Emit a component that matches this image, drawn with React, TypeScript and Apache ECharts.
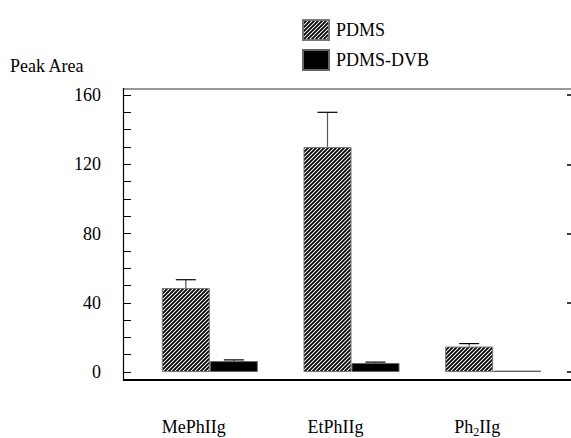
import React, { useEffect, useRef } from "react";
import * as echarts from "echarts";

const categories = ["MePhIIg", "EtPhIIg", "Ph2IIg"];
const pdms = [48.5, 130, 14.7];
const pdmsErrTop = [53.3, 150, 16.4];
const dvb = [6.3, 5.2, 0.8];
const dvbErrTop = [7.0, 5.7, null];
const yTicks = [0, 40, 80, 120, 160];

const BAR_W = 48;
const FONT = "Liberation Serif";

function makeHatch(): HTMLCanvasElement {
  const s = 4;
  const c = document.createElement("canvas");
  c.width = s;
  c.height = s;
  const g = c.getContext("2d")!;
  g.fillStyle = "#fff";
  g.fillRect(0, 0, s, s);
  g.strokeStyle = "#000";
  g.lineWidth = 1.8;
  g.beginPath();
  g.moveTo(-1, s + 1);
  g.lineTo(s + 1, -1);
  g.moveTo(-1, 1);
  g.lineTo(1, -1);
  g.moveTo(s - 1, s + 1);
  g.lineTo(s + 1, s - 1);
  g.stroke();
  return c;
}

function errSeries(name: string, vals: number[], tops: (number | null)[], dx: number) {
  const data: any[] = [];
  vals.forEach((v, i) => {
    if (tops[i] != null) data.push([i, v, tops[i]]);
  });
  return {
    type: "custom",
    name,
    data,
    z: 5,
    renderItem: (params: any, api: any) => {
      const b = api.coord([api.value(0), api.value(1)]);
      const t = api.coord([api.value(0), api.value(2)]);
      const x = b[0] + dx;
      return {
        type: "group",
        children: [
          { type: "line", shape: { x1: x, y1: b[1], x2: x, y2: t[1] }, style: { stroke: "#555", lineWidth: 1.2 } },
          { type: "line", shape: { x1: x - 10, y1: t[1], x2: x + 10, y2: t[1] }, style: { stroke: "#000", lineWidth: 1.2 } },
        ],
      };
    },
  };
}

export default function App() {
  const ref = useRef<HTMLDivElement>(null);
  useEffect(() => {
    const chart = echarts.init(ref.current!, null, { renderer: "svg" });
    const hatch = { image: makeHatch(), repeat: "repeat" } as any;
    chart.setOption({
      animation: false,
      backgroundColor: "#fff",
      textStyle: { fontFamily: FONT },
      grid: { left: 139, right: 7, top: 95, bottom: 64 },
      legend: {
        orient: "vertical",
        left: 297,
        top: 14,
        itemWidth: 26,
        itemHeight: 20,
        itemGap: 8,
        icon: "rect",
        data: ["PDMS", "PDMS-DVB"],
        textStyle: { fontFamily: FONT, fontSize: 18, color: "#000", padding: [0, 0, 0, 2] },
      },
      xAxis: {
        type: "category",
        data: categories,
        axisLine: { show: false },
        axisTick: { show: false },
        splitLine: { show: false },
        axisLabel: {
          margin: 44,
          padding: [0, 32, 0, 0],
          formatter: (v: string) => (v === "Ph2IIg" ? "{a|Ph}{s|2}{a|IIg}" : "{a|" + v + "}"),
          rich: {
            a: { fontFamily: FONT, fontSize: 18, color: "#000", lineHeight: 22 },
            s: { fontFamily: FONT, fontSize: 12, color: "#000", lineHeight: 12, verticalAlign: "bottom" },
          },
        },
      },
      yAxis: [
        {
          type: "value",
          min: yTicks[0],
          max: yTicks[yTicks.length - 1],
          interval: 40,
          offset: 15,
          axisLine: { show: false },
          axisTick: { show: true, inside: true, length: 7, lineStyle: { color: "#000", width: 1 } },
          minorTick: { show: true, splitNumber: 4, length: 7, lineStyle: { color: "#000", width: 1 } },
          splitLine: { show: false },
          axisLabel: { fontFamily: FONT, fontSize: 18, color: "#000", margin: 23 },
        },
        {
          type: "value",
          position: "right",
          min: yTicks[0],
          max: yTicks[yTicks.length - 1],
          interval: 40,
          offset: 7,
          axisLine: { show: false },
          axisTick: { show: true, inside: true, length: 4, lineStyle: { color: "#000", width: 1.5 } },
          splitLine: { show: false },
          axisLabel: { show: false },
        },
      ],
      graphic: [
        { type: "line", shape: { x1: 124, y1: 89, x2: 571, y2: 89 }, style: { stroke: "#999", lineWidth: 2 } },
        { type: "line", shape: { x1: 123.5, y1: 88, x2: 123.5, y2: 381 }, style: { stroke: "#000", lineWidth: 1.2 } },
        { type: "line", shape: { x1: 123, y1: 380, x2: 571, y2: 380 }, style: { stroke: "#000", lineWidth: 2 } },
        {
          type: "text",
          left: 10,
          top: 57,
          style: { text: "Peak Area", fontFamily: FONT, fontSize: 18, fill: "#000" },
        },
      ],
      series: [
        {
          type: "bar",
          name: "PDMS",
          data: pdms,
          barWidth: BAR_W,
          barGap: "0%",
          itemStyle: { color: hatch, borderColor: "#777", borderWidth: 1 },
        },
        {
          type: "bar",
          name: "PDMS-DVB",
          data: dvb,
          barWidth: BAR_W,
          barGap: "0%",
          itemStyle: { color: "#000", borderColor: "#666", borderWidth: 1 },
        },
        errSeries("errPDMS", pdms, pdmsErrTop, -BAR_W / 2),
        errSeries("errDVB", dvb, dvbErrTop, BAR_W / 2),
      ],
    });
    return () => chart.dispose();
  }, []);
  return <div ref={ref} style={{ width: 571, height: 438, position: "absolute", left: 0, top: 0 }} />;
}
